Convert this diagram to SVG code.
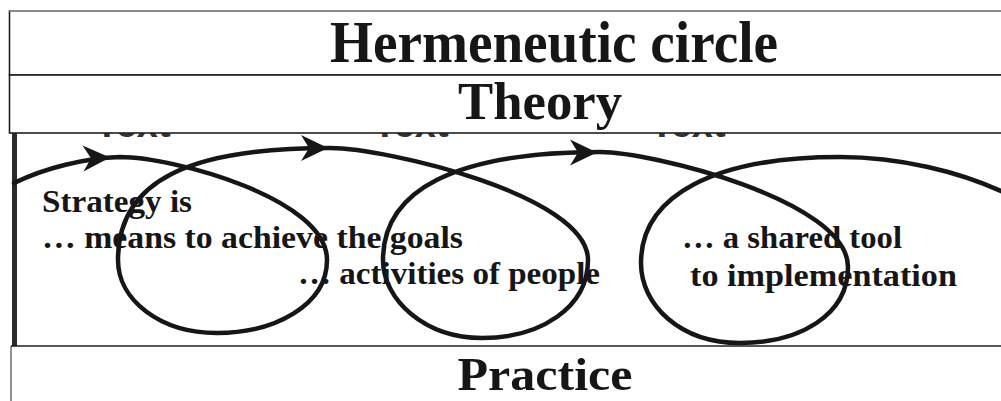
<svg xmlns="http://www.w3.org/2000/svg" width="1001" height="401" viewBox="0 0 1001 401">
  <style>
    .hdr { font-family: "Liberation Serif", "Times New Roman", serif; font-weight: bold; fill: #161616; text-anchor: middle; }
    .lbl { font-family: "Liberation Serif", "Times New Roman", serif; font-weight: bold; font-size: 31px; fill: #161616; }
    .frag { font-family: "Liberation Sans", Arial, sans-serif; font-weight: bold; font-size: 38px; fill: #333; text-anchor: middle; }
    .box { fill: #fff; stroke: #1e1e1e; stroke-width: 1.6; }
    .curve { fill: none; stroke: #161616; stroke-width: 4.5; stroke-linecap: round; stroke-linejoin: round; }
    .arrow { fill: #161616; }
  </style>
  <defs>
    <path id="ah" d="M0,0 L-27,-13 L-19,0 L-27,13 Z"/>
  </defs>
  <rect x="0" y="0" width="1001" height="401" fill="#fff"/>

  <!-- partially hidden labels above the arrows -->
  <g id="hidden-labels">
    <text class="frag" x="133" y="137">Text</text>
    <text class="frag" x="411" y="137">Text</text>
    <text class="frag" x="688" y="137">Text</text>
  </g>

  <g id="title">
    <rect class="box" x="9.5" y="11" width="1000" height="64"/>
    <line x1="9.5" y1="11" x2="1001" y2="11" stroke="#8a8a8a" stroke-width="2"/>
    <text class="hdr" x="554" y="62" font-size="60" textLength="448" lengthAdjust="spacingAndGlyphs">Hermeneutic circle</text>
  </g>

  <g id="theory">
    <rect class="box" x="9.5" y="75" width="1000" height="58"/>
    <text class="hdr" x="540" y="119" font-size="53" textLength="164" lengthAdjust="spacingAndGlyphs">Theory</text>
  </g>

  <g id="middle">
    <line x1="14.5" y1="133" x2="14.5" y2="346" stroke="#2a2a2a" stroke-width="5"/>
  </g>

  <g id="practice">
    <line x1="11" y1="346" x2="11" y2="401" stroke="#777" stroke-width="1.6"/>
    <line x1="11" y1="346" x2="1001" y2="346" stroke="#1e1e1e" stroke-width="1.6"/>
    <text class="hdr" x="545" y="390" font-size="47" textLength="175" lengthAdjust="spacingAndGlyphs">Practice</text>
  </g>

  <g id="connectors">
    <path class="curve" d="M14,183 C45,168 85,158 120,157
      C172,157 327,198 327,260
      C327,305 275,333 217,333
      C160,333 118,300 118,260
      C118,180 190,148 330,148
      C385,148 588,195 588,260
      C588,308 540,338 482,338
      C425,338 383,300 383,260
      C383,190 455,152 600,152
      C650,152 848,200 848,267
      C848,315 800,343 740,343
      C680,343 641,305 641,263
      C641,195 715,157 840,157
      C900,157 960,172 1003,192"/>
    <use href="#ah" class="arrow" transform="translate(110,157.5) rotate(-2)"/>
    <use href="#ah" class="arrow" transform="translate(328,148)"/>
    <use href="#ah" class="arrow" transform="translate(597,152.5)"/>
  </g>

  <g id="labels">
    <text class="lbl" x="42" y="212" textLength="150" lengthAdjust="spacingAndGlyphs">Strategy is</text>
    <text class="lbl" x="42" y="248" textLength="421" lengthAdjust="spacingAndGlyphs">… means to achieve the goals</text>
    <text class="lbl" x="298" y="284" textLength="302" lengthAdjust="spacingAndGlyphs">… activities of people</text>
    <text class="lbl" x="682" y="248" textLength="220" lengthAdjust="spacingAndGlyphs">… a shared tool</text>
    <text class="lbl" x="690" y="286" textLength="267" lengthAdjust="spacingAndGlyphs">to implementation</text>
  </g>
</svg>
